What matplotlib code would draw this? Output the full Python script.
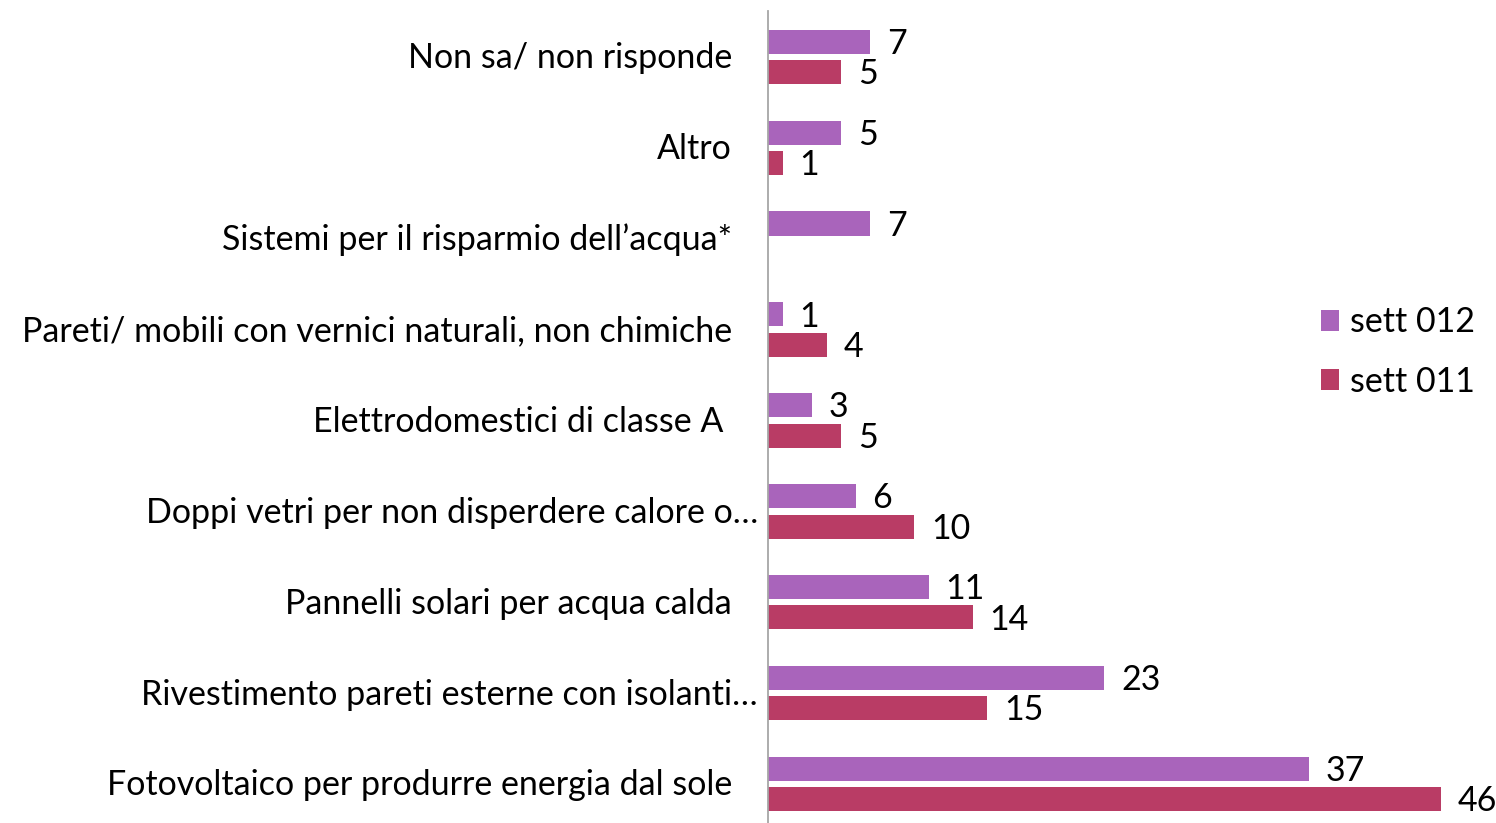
import numpy as np
import matplotlib.pyplot as plt
from matplotlib.patches import Patch

# ----------------------------
# Data (top to bottom)
# ----------------------------
categories = [
    "Non sa/ non risponde",
    "Altro",
    "Sistemi per il risparmio dell\u2019acqua*",
    "Pareti/ mobili con vernici naturali, non chimiche",
    "Elettrodomestici di classe A ",
    "Doppi vetri per non disperdere calore o\u2026",
    "Pannelli solari per acqua calda",
    "Rivestimento pareti esterne con isolanti\u2026",
    "Fotovoltaico per produrre energia dal sole",
]
sett_012 = [7, 5, 7, 1, 3, 6, 11, 23, 37]
sett_011 = [5, 1, None, 4, 5, 10, 14, 15, 46]
series_names = ["sett 012", "sett 011"]

C_012 = "#A964BB"
C_011 = "#B93C65"

plt.rcParams["font.family"] = ["Lato", "DejaVu Sans"]
FS = 24.5

W, H = 1496, 823
fig = plt.figure(figsize=(W / 100, H / 100), dpi=100)

# axes placed in pixel terms
x0_px, top_px = 768, 11.5
ax = fig.add_axes([x0_px / W, 0, (1492 - x0_px) / W, (H - top_px) / H])

y = np.arange(len(categories))
bar_h = 0.265
off = 0.167

v012 = np.array(sett_012, dtype=float)
v011 = np.array([np.nan if v is None else v for v in sett_011], dtype=float)

ax.barh(y - off, v012, height=bar_h, color=C_012, label=series_names[0])
ax.barh(y + off, np.nan_to_num(v011), height=bar_h, color=C_011, label=series_names[1])

for yi, v in zip(y, v012):
    ax.annotate(f"{v:g}", (v, yi - off), xytext=(12, -1.5), textcoords="offset points",
                ha="left", va="center", fontsize=FS)
for yi, v in zip(y, v011):
    if np.isnan(v):
        continue
    ax.annotate(f"{v:g}", (v, yi + off), xytext=(12, -1.5), textcoords="offset points",
                ha="left", va="center", fontsize=FS)

ax.set_xlim(0, (1492 - x0_px) / 14.63)
ax.set_ylim(8 + (H - 784) / 91.0, -0.5)

ax.set_yticks(y)
ax.set_yticklabels([])
ax.tick_params(axis="y", length=0)
ax.set_xticks([])
for c, yi in zip(categories, y):
    pad = 10 if c.endswith("\u2026") else 36
    ax.annotate(c, (0, yi), xytext=(-pad * 0.72, -1), textcoords="offset points",
                ha="right", va="center", fontsize=FS, annotation_clip=False)

for s in ["top", "right", "bottom"]:
    ax.spines[s].set_visible(False)
ax.spines["left"].set_color("#A6A6A6")
ax.spines["left"].set_linewidth(1.3)

handles = [Patch(facecolor=C_012, label=series_names[0]),
           Patch(facecolor=C_011, label=series_names[1])]
fig.legend(handles=handles, loc="center left", bbox_to_anchor=(1290 / W, 1 - 352 / H),
           frameon=False, fontsize=FS, handlelength=0.55, handleheight=0.55,
           handletextpad=0.3, labelspacing=0.8)

fig.savefig("out.png", dpi=100)
